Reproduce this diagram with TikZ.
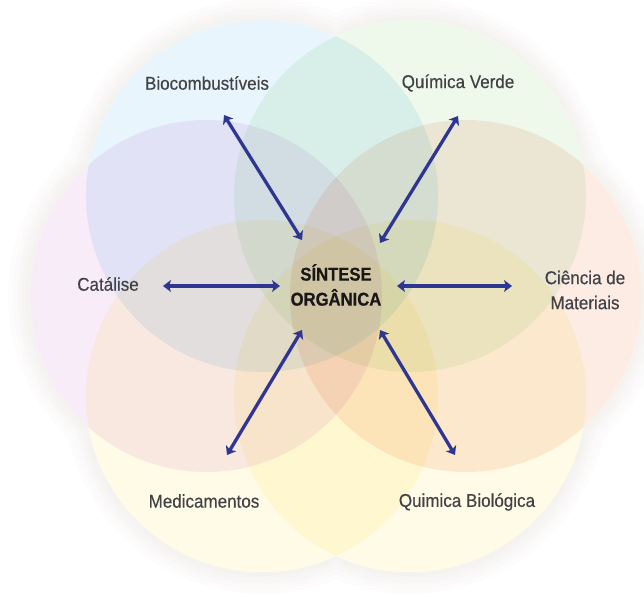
\documentclass[tikz,border=0pt]{standalone}
\usepackage{fontspec}
\setmainfont{Liberation Sans}[FakeStretch=0.92]
\newfontfamily\labelfont{Liberation Sans}[FakeStretch=0.92,FakeBold=0.35]
\newfontfamily\centerfont{Liberation Sans}[FakeStretch=0.9,FakeBold=0.6]
\usetikzlibrary{arrows.meta}
\definecolor{cblue}{RGB}{232,245,252}
\definecolor{cgreen}{RGB}{238,249,236}
\definecolor{clilac}{RGB}{248,236,249}
\definecolor{cpeach}{RGB}{252,236,228}
\definecolor{cyellow}{RGB}{255,251,230}
\definecolor{glowc}{RGB}{210,198,184}
\definecolor{arrowblue}{RGB}{46,54,146}
\definecolor{labelgray}{RGB}{66,66,70}
\definecolor{titlegray}{RGB}{25,23,23}
\begin{document}
\begin{tikzpicture}[x=1pt,y=-1pt,
  lbl/.style={text=labelgray, font=\labelfont\fontsize{18.5}{25}\selectfont, align=center, inner sep=0pt},
  ttl/.style={text=titlegray, font=\centerfont\bfseries\fontsize{18.5}{25}\selectfont, align=center, inner sep=0pt},
  biarrow/.style={draw=arrowblue, line width=3.3pt,
    {Stealth[length=8pt,width=12pt,inset=2pt]}-{Stealth[length=8pt,width=12pt,inset=2pt]}},
]
\useasboundingbox[fill=white] (0,0) rectangle (644,596);
\def\R{176}
% centres of the six circles
\coordinate (cB) at (262,196);
\coordinate (cG) at (410,196);
\coordinate (cL) at (206,296);
\coordinate (cP) at (466,296);
\coordinate (cYL) at (262,396);
\coordinate (cYR) at (410,396);
% soft glow around the flower
\foreach \k in {22,17,12,8,4}{
  \begin{scope}[transparency group, opacity=0.04]
    \fill[glowc] (cB) circle[radius=\R+\k] (cG) circle[radius=\R+\k]
      (cL) circle[radius=\R+\k] (cP) circle[radius=\R+\k]
      (cYL) circle[radius=\R+\k] (cYR) circle[radius=\R+\k];
  \end{scope}
}
\fill[white] (cB) circle[radius=\R] (cG) circle[radius=\R]
  (cL) circle[radius=\R] (cP) circle[radius=\R]
  (cYL) circle[radius=\R] (cYR) circle[radius=\R];
% coloured circles
\begin{scope}[blend group=multiply]
  \fill[cblue] (cB) circle[radius=\R];
  \fill[cgreen] (cG) circle[radius=\R];
  \fill[clilac] (cL) circle[radius=\R];
  \fill[cpeach] (cP) circle[radius=\R];
  \fill[cyellow] (cYL) circle[radius=\R];
  \fill[cyellow] (cYR) circle[radius=\R];
\end{scope}
% labels
\node[ttl] (center) at (336,285) {SÍNTESE\\ORGÂNICA};
\node[lbl] (bio) at (207,83) {Biocombustíveis};
\node[lbl] (qv) at (458,83) {Química Verde};
\node[lbl] (cat) at (108,284) {Catálise};
\node[lbl] (cm) at (585,290) {Ciência de\\Materiais};
\node[lbl] (med) at (204,501) {Medicamentos};
\node[lbl] (qb) at (467,502) {Quimica Biológica};
% arrow ends
\coordinate (bio-o) at (224,115);
\coordinate (bio-i) at (302,240);
\coordinate (qv-o) at (458,116);
\coordinate (qv-i) at (380,243);
\coordinate (cat-o) at (163,286);
\coordinate (cat-i) at (280,286);
\coordinate (cm-o) at (512,286);
\coordinate (cm-i) at (397,286);
\coordinate (med-o) at (227,455);
\coordinate (med-i) at (302,330);
\coordinate (qb-o) at (455,455);
\coordinate (qb-i) at (380,330);
\draw[biarrow] (bio-o) -- (bio-i);
\draw[biarrow] (qv-o) -- (qv-i);
\draw[biarrow] (cat-o) -- (cat-i);
\draw[biarrow] (cm-o) -- (cm-i);
\draw[biarrow] (med-o) -- (med-i);
\draw[biarrow] (qb-o) -- (qb-i);
\end{tikzpicture}
\end{document}
